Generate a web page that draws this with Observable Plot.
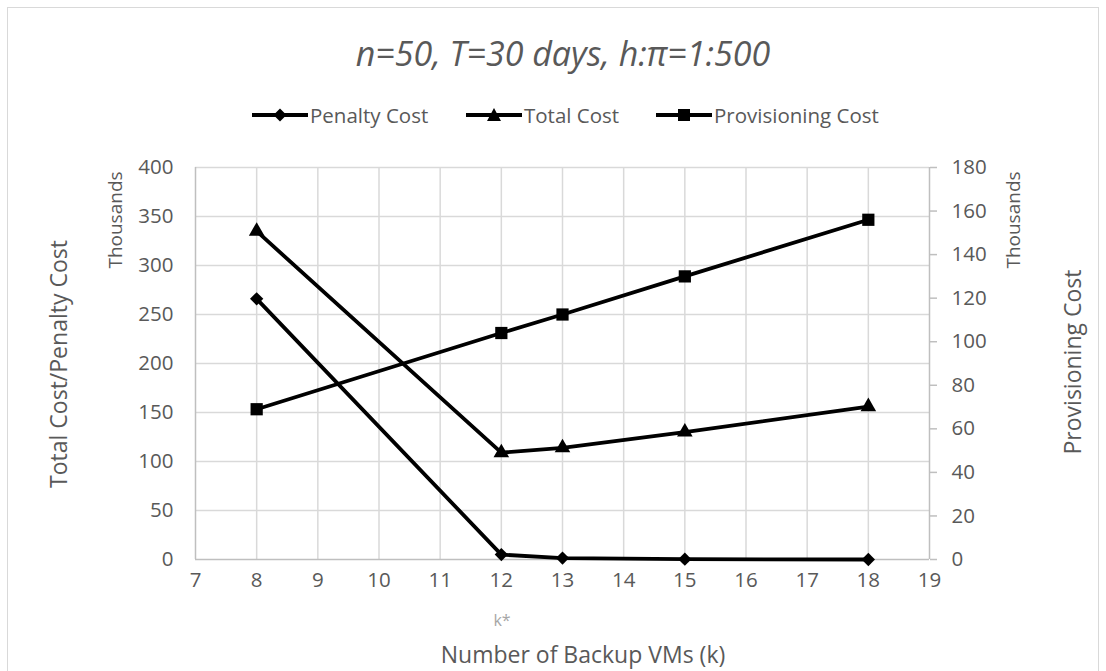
<!DOCTYPE html>
<html>
<head>
<meta charset="utf-8">
<script src="https://cdn.jsdelivr.net/npm/d3@7"></script>
<script src="https://cdn.jsdelivr.net/npm/@observablehq/plot@0.6"></script>
<style>
  html, body { margin: 0; padding: 0; background: #fff; }
  #wrap { position: relative; width: 1106px; height: 671px; overflow: hidden; font-family: "Open Sans", sans-serif; color: #595959; }
  #frame { position: absolute; left: 7px; top: 7px; width: 1092px; height: 680px; border: 1.5px solid #d9d9d9; box-sizing: border-box; }
  .lbl { position: absolute; white-space: nowrap; line-height: 1; }
  #chart { position: absolute; left: 0; top: 0; }
</style>
</head>
<body>
<div id="wrap">
  <div id="frame"></div>
  <div id="chart"></div>
</div>
<script>
// ---- data (values in thousands) ----
const k = [8, 12, 13, 15, 18];
const penaltyCost = [266, 5, 1.5, 0.3, 0];
const totalCost = [335, 109, 114, 130, 156];
const provisioningCost = [69, 104, 112.5, 130, 156];

const xTicks = [7, 8, 9, 10, 11, 12, 13, 14, 15, 16, 17, 18, 19];
const leftTicks = [0, 50, 100, 150, 200, 250, 300, 350, 400];
const rightTicks = [0, 20, 40, 60, 80, 100, 120, 140, 160, 180];

const titleText = "n=50, T=30 days, h:π=1:500";
const seriesNames = ["Penalty Cost", "Total Cost", "Provisioning Cost"];
const xTitle = "Number of Backup VMs (k)";
const leftTitle = "Total Cost/Penalty Cost";
const rightTitle = "Provisioning Cost";
const unitsText = "Thousands";
const kStar = "k*";

const leftMax = 400, rightMax = 180;
const toLeft = v => v * leftMax / rightMax;

const rows = k.map((kk, i) => ({
  k: kk,
  penalty: penaltyCost[i],
  total: totalCost[i],
  provisioning: provisioningCost[i]
}));

const gridColor = "#d9d9d9";
const axisColor = "#bfbfbf";
const textColor = "#595959";
const tickFont = 20.5;

const plot = Plot.plot({
  width: 1106,
  height: 671,
  marginLeft: 195,
  marginRight: 177,
  marginTop: 167,
  marginBottom: 112,
  style: { fontFamily: "Open Sans", fontSize: tickFont + "px", color: textColor, background: "transparent" },
  x: { domain: [7, 19] },
  y: { domain: [0, leftMax] },
  marks: [
    Plot.gridX(xTicks.slice(1, -1), { stroke: gridColor, strokeOpacity: 1, strokeWidth: 1.5 }),
    Plot.gridY(leftTicks.slice(1), { stroke: gridColor, strokeOpacity: 1, strokeWidth: 1.5 }),
    Plot.ruleX([7, 19], { stroke: axisColor, strokeWidth: 1.5 }),
    Plot.ruleY([0], { stroke: axisColor, strokeWidth: 1.5 }),
    Plot.axisX(xTicks, { tickSize: 0, tickPadding: 13, fill: textColor, fontSize: tickFont, label: null }),
    Plot.axisY(leftTicks, { anchor: "left", tickSize: 0, tickPadding: 22, fill: textColor, fontSize: tickFont, label: null }),
    Plot.axisY(rightTicks.map(toLeft), {
      anchor: "right", tickSize: 7, tickPadding: 15, stroke: axisColor, strokeWidth: 1.5,
      fill: textColor, fontSize: tickFont, label: null,
      tickFormat: d => String(Math.round(d * rightMax / leftMax))
    }),
    Plot.line(rows, { x: "k", y: "penalty", stroke: "black", strokeWidth: 3.8 }),
    Plot.line(rows, { x: "k", y: "total", stroke: "black", strokeWidth: 3.8 }),
    Plot.line(rows, { x: "k", y: d => toLeft(d.provisioning), stroke: "black", strokeWidth: 3.8 }),
    Plot.dot(rows, { x: "k", y: "penalty", symbol: "square", rotate: 45, r: 5.3, fill: "black", stroke: "none" }),
    Plot.dot(rows, { x: "k", y: "total", symbol: "triangle", r: 5.8, fill: "black", stroke: "none" }),
    Plot.dot(rows, { x: "k", y: d => toLeft(d.provisioning), symbol: "square", r: 6.9, fill: "black", stroke: "none" })
  ]
});
document.getElementById("chart").appendChild(plot);

const wrap = document.getElementById("wrap");
function label(text, cx, cy, size, opts = {}) {
  const d = document.createElement("div");
  d.className = "lbl";
  d.textContent = text;
  d.style.left = cx + "px";
  d.style.top = cy + "px";
  d.style.fontSize = size + "px";
  if (opts.italic) d.style.fontStyle = "italic";
  if (opts.color) d.style.color = opts.color;
  d.style.transform = "translate(-50%,-50%)" + (opts.rotate ? " rotate(-90deg)" : "");
  wrap.appendChild(d);
  return d;
}

label(titleText, 563, 53, 34, { italic: true });
label(leftTitle, 58, 364, 23, { rotate: true });
label(unitsText, 115, 220, 19, { rotate: true });
label(unitsText, 1013, 220, 19, { rotate: true });
label(rightTitle, 1072, 362, 23, { rotate: true });
label(xTitle, 583, 654, 23);
label(kStar, 502, 620, 16, { color: "#a6a6a6" });

// legend
const legendItems = [
  { name: seriesNames[0], x: 252, sym: "diamond" },
  { name: seriesNames[1], x: 466, sym: "triangle" },
  { name: seriesNames[2], x: 656, sym: "square" }
];
const NS = "http://www.w3.org/2000/svg";
legendItems.forEach(it => {
  const svg = document.createElementNS(NS, "svg");
  svg.setAttribute("width", 56);
  svg.setAttribute("height", 20);
  svg.style.position = "absolute";
  svg.style.left = it.x + "px";
  svg.style.top = (115 - 10) + "px";
  const ln = document.createElementNS(NS, "line");
  ln.setAttribute("x1", 0); ln.setAttribute("x2", 56);
  ln.setAttribute("y1", 10); ln.setAttribute("y2", 10);
  ln.setAttribute("stroke", "black"); ln.setAttribute("stroke-width", 3.8);
  svg.appendChild(ln);
  const p = document.createElementNS(NS, "path");
  let dpath;
  if (it.sym === "diamond") dpath = "M28,3.5L34.5,10L28,16.5L21.5,10Z";
  else if (it.sym === "triangle") dpath = "M28,3L35,16L21,16Z";
  else dpath = "M22,4H34V16H22Z";
  p.setAttribute("d", dpath);
  p.setAttribute("fill", "black");
  svg.appendChild(p);
  wrap.appendChild(svg);
  const t = document.createElement("div");
  t.className = "lbl";
  t.textContent = it.name;
  t.style.left = (it.x + 58) + "px";
  t.style.top = "115px";
  t.style.fontSize = "20.5px";
  t.style.transform = "translate(0,-50%)";
  wrap.appendChild(t);
});
</script>
</body>
</html>
